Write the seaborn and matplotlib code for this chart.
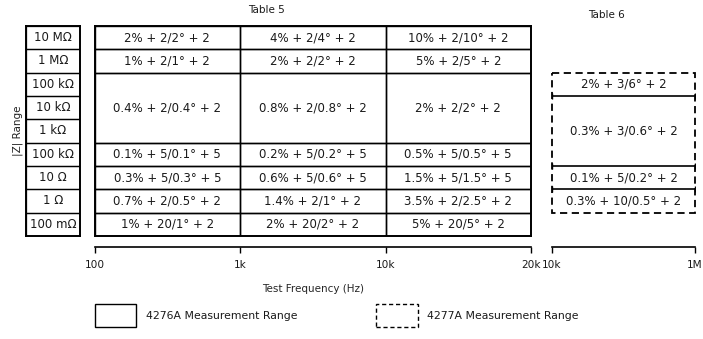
import matplotlib
matplotlib.use('Agg')
import matplotlib.pyplot as plt
from matplotlib.patches import Rectangle
import seaborn as sns

# |Z| ranges (rows, top to bottom)
z_ranges = ['10 MΩ', '1 MΩ', '100 kΩ', '10 kΩ', '1 kΩ', '100 kΩ', '10 Ω', '1 Ω', '100 mΩ']

# Table 5 (4276A): frequency axis and accuracy cells
t5_freq_labels = ['100', '1k', '10k', '20k']
t5_row_spans = [(0, 1), (1, 2), (2, 5), (5, 6), (6, 7), (7, 8), (8, 9)]
t5_col1 = ['2% + 2/2° + 2', '1% + 2/1° + 2', '0.4% + 2/0.4° + 2', '0.1% + 5/0.1° + 5',
           '0.3% + 5/0.3° + 5', '0.7% + 2/0.5° + 2', '1% + 20/1° + 2']
t5_col2 = ['4% + 2/4° + 2', '2% + 2/2° + 2', '0.8% + 2/0.8° + 2', '0.2% + 5/0.2° + 5',
           '0.6% + 5/0.6° + 5', '1.4% + 2/1° + 2', '2% + 20/2° + 2']
t5_col3 = ['10% + 2/10° + 2', '5% + 2/5° + 2', '2% + 2/2° + 2', '0.5% + 5/0.5° + 5',
           '1.5% + 5/1.5° + 5', '3.5% + 2/2.5° + 2', '5% + 20/5° + 2']

# Table 6 (4277A)
t6_freq_labels = ['10k', '1M']
t6_row_spans = [(2, 3), (3, 6), (6, 7), (7, 8)]
t6_cells = ['2% + 3/6° + 2', '0.3% + 3/0.6° + 2', '0.1% + 5/0.2° + 2', '0.3% + 10/0.5° + 2']

sns.set_theme(style='white')
plt.rcParams['font.family'] = ['DejaVu Sans']
plt.rcParams['text.color'] = '#1a1a1a'

W, H = 703, 339
fig = plt.figure(figsize=(W / 100, H / 100), dpi=100)


def box(left, top, right, bottom):
    # pixel box -> figure fraction [l, b, w, h]
    return [left / W, 1 - bottom / H, (right - left) / W, (bottom - top) / H]


cell_fs = 8.5
tick_fs = 7.6
n_rows = len(z_ranges)

# range column
ax_r = fig.add_axes(box(26, 26, 80, 236))
for i, lab in enumerate(z_ranges):
    ax_r.add_patch(Rectangle((0, i), 1, 1, fill=False, ec='black', lw=0.9))
    ax_r.text(0.5, i + 0.5, lab, ha='center', va='center', fontsize=cell_fs)
ax_r.set_xlim(0, 1)
ax_r.set_ylim(n_rows, 0)
ax_r.set_xticks([])
ax_r.set_yticks([])
for s in ax_r.spines.values():
    s.set_linewidth(1.4)
    s.set_color('black')
ax_r.set_ylabel('|Z| Range', fontsize=7.5, labelpad=2, color='#222222')

# Table 5
ax5 = fig.add_axes(box(94.5, 26, 531, 236))
for c, col in enumerate([t5_col1, t5_col2, t5_col3]):
    for (r0, r1), txt in zip(t5_row_spans, col):
        ax5.add_patch(Rectangle((c, r0), 1, r1 - r0, fill=False, ec='black', lw=1.0))
        ax5.text(c + 0.5, (r0 + r1) / 2, txt, ha='center', va='center', fontsize=cell_fs)
ax5.set_xlim(0, len(t5_freq_labels) - 1)
ax5.set_ylim(n_rows, 0)
ax5.set_yticks([])
ax5.set_xticks(range(len(t5_freq_labels)))
ax5.set_xticklabels(t5_freq_labels)
for name in ['left', 'right', 'top']:
    ax5.spines[name].set_linewidth(1.4)
    ax5.spines[name].set_color('black')
ax5.spines['bottom'].set_position(('outward', 8))
ax5.spines['bottom'].set_color('black')
ax5.spines['bottom'].set_linewidth(1.2)
ax5.tick_params(axis='x', bottom=True, direction='out', length=4, width=1.0,
                color='black', pad=5, labelsize=tick_fs, labelcolor='#1a1a1a')
ax5.set_xlabel('Test Frequency (Hz)', fontsize=7.5, labelpad=10)
# table bottom edge
ax5.axhline(n_rows, color='black', lw=1.4, clip_on=False)

# Table 6
ax6 = fig.add_axes(box(552, 26, 695, 236))
for (r0, r1), txt in zip(t6_row_spans, t6_cells):
    ax6.text(0.5, (r0 + r1) / 2, txt, ha='center', va='center', fontsize=cell_fs)
for (r0, r1) in t6_row_spans[1:]:
    ax6.plot([0, 1], [r0, r0], color='black', lw=1.2, marker='|', ms=5, mew=1.0)
top6, bot6 = t6_row_spans[0][0], t6_row_spans[-1][1]
ax6.add_patch(Rectangle((0, top6), 1, bot6 - top6, fill=False, ec='black', lw=1.3,
                        ls=(0, (4, 2.5)), clip_on=False))
ax6.set_xlim(0, 1)
ax6.set_ylim(n_rows, 0)
ax6.set_yticks([])
ax6.set_xticks([0, 1])
ax6.set_xticklabels(t6_freq_labels)
for name in ['left', 'right', 'top']:
    ax6.spines[name].set_visible(False)
ax6.spines['bottom'].set_position(('outward', 8))
ax6.spines['bottom'].set_color('black')
ax6.spines['bottom'].set_linewidth(1.2)
ax6.tick_params(axis='x', bottom=True, direction='out', length=4, width=1.0,
                color='black', pad=5, labelsize=tick_fs, labelcolor='#1a1a1a')
ax6.set_facecolor('none')

# titles
fig.text(266 / W, 1 - 10 / H, 'Table 5', ha='center', va='center', fontsize=7.5)
fig.text(606 / W, 1 - 15 / H, 'Table 6', ha='center', va='center', fontsize=7.5)

# legend
fig.add_artist(Rectangle((95 / W, 1 - 327 / H), 41 / W, 23 / H, transform=fig.transFigure,
                         fill=False, ec='black', lw=1.0))
fig.text(146 / W, 1 - 316 / H, '4276A Measurement Range', ha='left', va='center', fontsize=7.8)
fig.add_artist(Rectangle((376 / W, 1 - 327 / H), 42 / W, 23 / H, transform=fig.transFigure,
                         fill=False, ec='black', lw=1.0, ls=(0, (3, 2))))
fig.text(427 / W, 1 - 316 / H, '4277A Measurement Range', ha='left', va='center', fontsize=7.8)

fig.savefig('out.png', dpi=100)
